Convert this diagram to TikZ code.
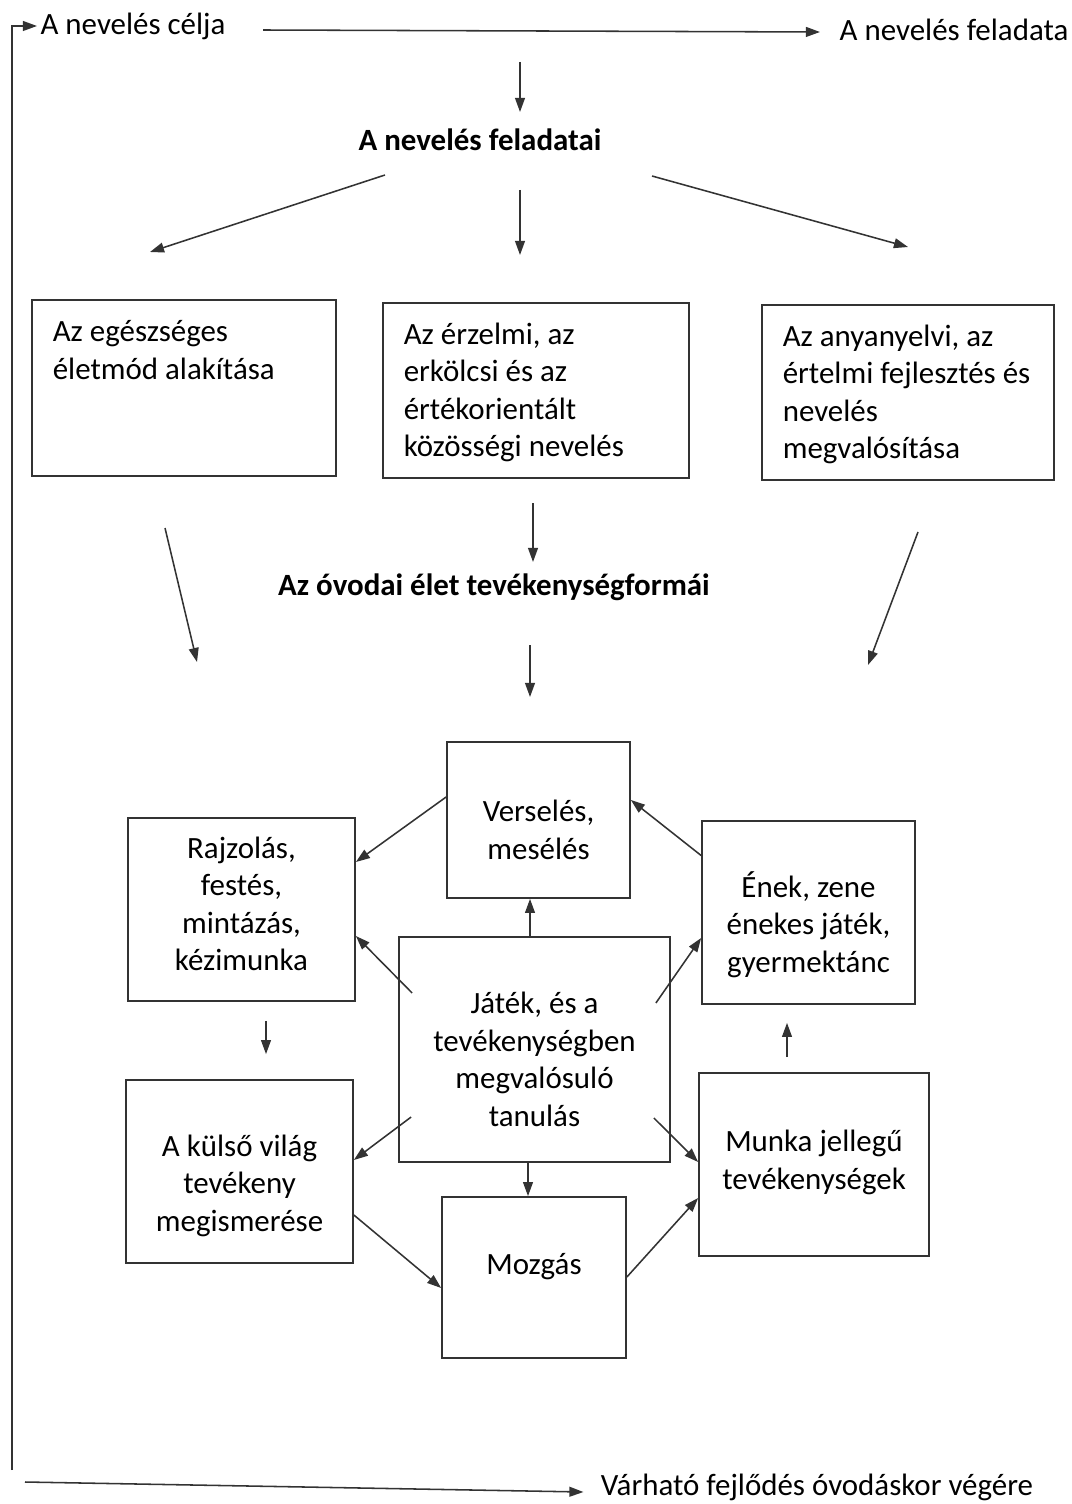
\documentclass[tikz,border=0pt]{standalone}
\usepackage{fontspec}
\setmainfont{Carlito}
\usetikzlibrary{arrows.meta,calc}
\begin{document}
\begin{tikzpicture}[x=0.025cm,y=-0.025cm,color=black!80,line width=1.1pt,
  every node/.style={font=\fontsize{22}{26.7}\selectfont,text=black},
  box/.style={draw,line width=1.2pt,inner sep=0pt},
  boxtext/.style={align=center,inner sep=0pt},
  lefttext/.style={anchor=north west,align=left,inner sep=0pt},
  title/.style={font=\fontsize{22}{26.7}\selectfont\bfseries},
  pf/.style={-{Triangle[length=10pt,width=7pt]}}]
\useasboundingbox (0,0) rectangle (1071,1504);
% top line
\node[inner sep=2pt] (celja) at (133,26) {A nevelés célja};
\node (feladata) at (954,30) {A nevelés feladata};
\coordinate (topS) at (263,30);
\coordinate (topE) at (820,32);
\draw[pf] (topS) -- (topE);
\coordinate (leftS) at (12,1470);
\draw[pf] (leftS) |- (celja.west);
\coordinate (d1S) at (520,62);
\coordinate (d1E) at (520,112);
\draw[pf] (d1S) -- (d1E);
\node[title] (feladatai) at (480,140) {A nevelés feladatai};
\coordinate (f1S) at (385,175);
\coordinate (f1E) at (150,252);
\coordinate (f2S) at (520,190);
\coordinate (f2E) at (520,255);
\coordinate (f3S) at (652,176);
\coordinate (f3E) at (908,247);
\draw[pf] (f1S) -- (f1E);
\draw[pf] (f2S) -- (f2E);
\draw[pf] (f3S) -- (f3E);
% three tasks
\node[box,minimum width=7.6cm,minimum height=4.4cm] (b1) at (184,388) {};
\node[box,minimum width=7.65cm,minimum height=4.375cm] (b2) at (536,390.5) {};
\node[box,minimum width=7.3cm,minimum height=4.375cm] (b3) at (908,392.5) {};
\node[lefttext] (t1) at (52,320) {Az egészséges\\életmód alakítása};
\node[lefttext] (t2) at (403,322) {Az érzelmi, az\\erkölcsi és az\\értékorientált\\közösségi nevelés};
\node[lefttext] (t3) at (782,324) {Az anyanyelvi, az\\értelmi fejlesztés és\\nevelés\\megvalósítása};
\coordinate (g1S) at (165,528);
\coordinate (g1E) at (197,662);
\coordinate (g2S) at (533,503);
\coordinate (g2E) at (533,562);
\coordinate (g3S) at (918,532);
\coordinate (g3E) at (868,665);
\draw[pf] (g1S) -- (g1E);
\draw[pf] (g2S) -- (g2E);
\draw[pf] (g3S) -- (g3E);
\node[title] (formai) at (494,587) {Az óvodai élet tevékenységformái};
\coordinate (h1S) at (530,645);
\coordinate (h1E) at (530,697);
\draw[pf] (h1S) -- (h1E);
% activity forms
\node[box,minimum width=4.575cm,minimum height=3.9cm,
  label={[boxtext,yshift=-7pt]center:{Verselés,\\mesélés}}] (vers) at (538.5,820) {};
\node[box,minimum width=5.675cm,minimum height=4.575cm,
  label={[boxtext,yshift=4pt]center:{Rajzolás,\\festés,\\mintázás,\\kézimunka}}] (rajz) at (241.5,909.5) {};
\node[box,minimum width=5.325cm,minimum height=4.575cm,
  label={[boxtext,yshift=-8.5pt]center:{Ének, zene\\énekes játék,\\gyermektánc}}] (enek) at (808.5,912.5) {};
\node[box,minimum width=6.775cm,minimum height=5.625cm,
  label={[boxtext,yshift=-7pt]center:{Játék, és a\\tevékenységben\\megvalósuló\\tanulás}}] (jatek) at (534.5,1049.5) {};
\node[box,minimum width=5.675cm,minimum height=4.575cm,
  label={[boxtext,yshift=-10pt]center:{A külső világ\\tevékeny\\megismerése}}] (kulso) at (239.5,1171.5) {};
\node[box,minimum width=4.6cm,minimum height=4.025cm,
  label={[boxtext,yshift=8pt]center:{Mozgás}}] (mozgas) at (534,1277.5) {};
\node[box,minimum width=5.75cm,minimum height=4.575cm,
  label={[boxtext,yshift=1.5pt]center:{Munka jellegű\\tevékenységek}}] (munka) at (814,1164.5) {};
\draw[pf] ($(vers.west)+(0,-23)$) -- ($(rajz.east)+(0,-47.5)$);
\draw[pf] ($(enek.west)+(0,-57)$) -- ($(vers.east)+(0,-20)$);
\draw[pf] ($(jatek.north)+(-4.5,0)$) -- ($(vers.south)+(-8.5,0)$);
\draw[pf] ($(jatek.west)+(14,-56.5)$) -- ($(rajz.east)+(0,26.5)$);
\draw[pf] ($(jatek.east)+(-15,-46.5)$) -- ($(enek.west)+(0,25.5)$);
\draw[pf] ($(jatek.west)+(13,67.5)$) -- ($(kulso.east)+(0,-11.5)$);
\draw[pf] ($(jatek.east)+(-17,68.5)$) -- ($(munka.west)+(0,-2.5)$);
\draw[pf] ($(jatek.south)+(-6.5,0)$) -- ($(mozgas.north)+(-6,0)$);
\draw[pf] ($(kulso.east)+(0,43.5)$) -- ($(mozgas.west)+(0,10.5)$);
\draw[pf] ($(mozgas.east)+(0,-0.5)$) -- ($(munka.west)+(0,33.5)$);
\draw[pf] ($(rajz.south)+(24.5,19)$) -- ($(kulso.north)+(26.5,-25)$);
\draw[pf] ($(munka.north)+(-27,-15)$) -- ($(enek.south)+(-21.5,18)$);
% bottom line
\node (varhato) at (817,1487) {Várható fejlődés óvodáskor végére};
\coordinate (botS) at (25,1482);
\draw[pf] (botS) -- ($(varhato.west)+(-12,5)$);
\end{tikzpicture}
\end{document}
